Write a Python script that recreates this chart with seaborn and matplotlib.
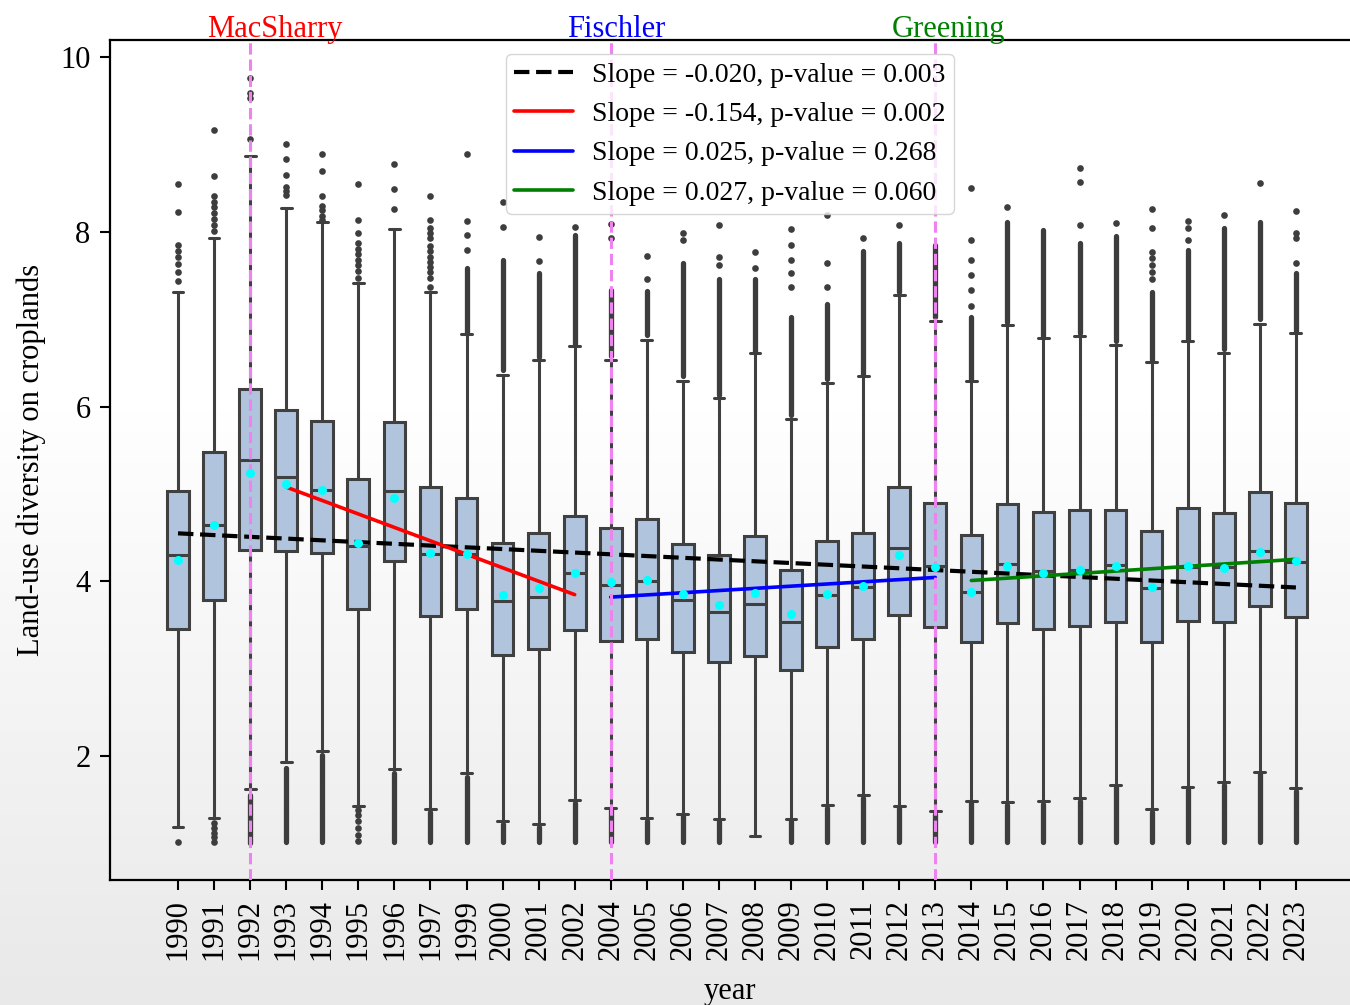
import numpy as np
import pandas as pd
import matplotlib
matplotlib.use("Agg")
import matplotlib.pyplot as plt
import seaborn as sns
from matplotlib.colors import LinearSegmentedColormap
from matplotlib import transforms

# ---- per-year box statistics -------------------------------------------
years = ["1990", "1991", "1992", "1993", "1994", "1995", "1996", "1997",
         "1999", "2000", "2001", "2002", "2004", "2005", "2006", "2007",
         "2008", "2009", "2010", "2011", "2012", "2013", "2014", "2015",
         "2016", "2017", "2018", "2019", "2020", "2021", "2022", "2023"]
whisker_low = [1.19, 1.29, 1.62, 1.93, 2.06, 1.43, 1.85, 1.39,
               1.80, 1.25, 1.22, 1.50, 1.41, 1.29, 1.34, 1.28,
               1.08, 1.28, 1.44, 1.55, 1.43, 1.37, 1.49, 1.47,
               1.48, 1.52, 1.67, 1.39, 1.65, 1.70, 1.82, 1.63]
q1 = [3.45, 3.79, 4.36, 4.35, 4.32, 3.68, 4.23, 3.60,
      3.68, 3.16, 3.22, 3.44, 3.32, 3.34, 3.19, 3.08,
      3.14, 2.99, 3.25, 3.34, 3.61, 3.48, 3.31, 3.52,
      3.46, 3.49, 3.54, 3.30, 3.55, 3.54, 3.72, 3.59]
median = [4.30, 4.65, 5.39, 5.20, 5.05, 4.41, 5.03, 4.31,
          4.31, 3.78, 3.82, 4.10, 3.96, 4.00, 3.79, 3.65,
          3.74, 3.54, 3.84, 3.93, 4.38, 4.18, 3.88, 4.20,
          4.12, 4.13, 4.19, 3.92, 4.16, 4.16, 4.35, 4.22]
q3 = [5.03, 5.48, 6.20, 5.96, 5.84, 5.17, 5.83, 5.08,
      4.95, 4.44, 4.55, 4.75, 4.61, 4.71, 4.43, 4.30,
      4.52, 4.13, 4.46, 4.55, 5.08, 4.90, 4.53, 4.89,
      4.80, 4.82, 4.82, 4.58, 4.84, 4.78, 5.02, 4.90]
whisker_high = [7.31, 7.93, 8.87, 8.28, 8.11, 7.42, 8.03, 7.31,
                6.83, 6.36, 6.53, 6.69, 6.53, 6.77, 6.30, 6.10,
                6.61, 5.86, 6.27, 6.35, 7.28, 6.98, 6.29, 6.94,
                6.79, 6.81, 6.71, 6.51, 6.75, 6.61, 6.95, 6.84]
mean = [4.25, 4.65, 5.24, 5.12, 5.05, 4.44, 4.96, 4.32,
        4.31, 3.84, 3.92, 4.10, 3.99, 4.02, 3.85, 3.73,
        3.87, 3.63, 3.85, 3.95, 4.30, 4.16, 3.88, 4.18,
        4.10, 4.13, 4.18, 3.94, 4.18, 4.15, 4.34, 4.23]

# ---- outliers: isolated points and tightly packed runs ------------------
outlier_points = [
    [8.55, 8.23, 7.85, 7.78, 7.71, 7.64, 7.54, 7.44, 1.01],
    [9.17, 8.64, 8.41, 8.35, 8.29, 8.22, 8.15, 8.08, 8.01, 1.23, 1.17, 1.12, 1.07, 1.02],
    [9.76, 9.59, 9.54, 9.07],
    [9.01, 8.84, 8.65, 8.52, 8.47, 8.42],
    [8.89, 8.70, 8.41, 8.30, 8.25, 8.19, 8.14],
    [8.55, 8.14, 7.99, 7.87, 7.81, 7.75, 7.68, 7.62, 7.55, 7.48, 1.38, 1.32, 1.25, 1.18, 1.10, 1.03],
    [8.78, 8.49, 8.26],
    [8.41, 8.14, 8.05, 7.99, 7.93, 7.84, 7.78, 7.72, 7.66, 7.60, 7.54, 7.47, 7.37],
    [8.89, 8.13, 7.97, 7.79],
    [8.34, 8.06],
    [7.94, 7.67],
    [8.06],
    [8.09, 7.93],
    [7.73, 7.46],
    [7.99, 7.91],
    [8.08, 7.71, 7.62],
    [7.77, 7.59],
    [8.03, 7.85, 7.68, 7.53, 7.37],
    [8.20, 7.65, 7.37],
    [7.93],
    [8.08],
    [],
    [8.50, 7.91, 7.68, 7.51, 7.34, 7.15],
    [8.29],
    [],
    [8.73, 8.57, 8.08],
    [8.10],
    [8.26, 8.05, 7.77, 7.70, 7.62, 7.54, 7.46],
    [8.13, 8.05, 7.91],
    [8.20],
    [8.56],
    [8.24, 7.99, 7.93, 7.65],
]
upper_runs = [None, None, None, None, None, None, None, None,
              (6.86, 7.59), (6.42, 7.68), (6.57, 7.53), (6.72, 7.97),
              (6.58, 7.34), (6.82, 7.33), (6.35, 7.65), (6.13, 7.46),
              (6.63, 7.46), (5.91, 7.03), (6.32, 7.18), (6.37, 7.78),
              (7.31, 7.87), (7.03, 7.85), (6.32, 7.03), (6.97, 8.11),
              (6.81, 8.02), (6.84, 7.87), (6.75, 7.96), (6.53, 7.31),
              (6.78, 7.80), (6.66, 8.05), (7.00, 8.11), (6.87, 7.53)]
lower_runs = [None, None, (1.00, 1.55), (1.01, 1.86), (1.01, 2.01), None, (1.01, 1.80), (1.01, 1.36),
              (1.01, 1.76), (1.01, 1.22), (1.01, 1.19), (1.01, 1.46),
              (1.01, 1.38), (1.01, 1.26), (1.01, 1.31), (1.01, 1.25),
              None, (1.01, 1.25), (1.01, 1.41), (1.01, 1.52),
              (1.01, 1.40), (1.01, 1.34), (1.01, 1.46), (1.01, 1.44),
              (1.01, 1.45), (1.01, 1.49), (1.01, 1.64), (1.01, 1.36),
              (1.01, 1.62), (1.01, 1.67), (1.01, 1.79), (1.01, 1.60)]

# ---- fitted trends ------------------------------------------------------
trend_labels = ["Slope = -0.020, p-value = 0.003",
                "Slope = -0.154, p-value = 0.002",
                "Slope = 0.025, p-value = 0.268",
                "Slope = 0.027, p-value = 0.060"]
trend_slopes = [-0.020, -0.154, 0.025, 0.027]
trend_start = ["1990", "1993", "2004", "2014"]
trend_end = ["2023", "2002", "2013", "2023"]
trend_start_value = [4.55, 5.08, 3.82, 4.01]
trend_colors = ["black", "red", "blue", "green"]
trend_styles = ["--", "-", "-", "-"]

# ---- CAP reforms --------------------------------------------------------
reform_names = ["MacSharry", "Fischler", "Greening"]
reform_years = ["1992", "2004", "2013"]
reform_colors = ["red", "blue", "green"]

# ------------------------------------------------------------------------
sns.set_theme(style="ticks")
plt.rcParams["font.family"] = ["Liberation Serif", "DejaVu Serif"]
plt.rcParams.update({"text.color": "black", "axes.labelcolor": "black",
                     "xtick.color": "black", "ytick.color": "black"})

fig = plt.figure(figsize=(13.5, 10.05), dpi=100)
fig.patch.set_facecolor("white")

# soft vertical shading behind the whole figure
bg = fig.add_axes([0, 0, 1, 1], zorder=-5)
shade = np.concatenate([np.zeros(40), np.linspace(0, 1, 60)])[:, None]
bg.imshow(shade, aspect="auto", extent=[0, 1, 0, 1],
          cmap=LinearSegmentedColormap.from_list("shade", ["#ffffff", "#e9e9e9"]),
          vmin=0, vmax=1)
bg.set_axis_off()

ax = fig.add_axes([110 / 1350, 125 / 1005, 1240 / 1350, 840 / 1005])
ax.set_facecolor("none")

# five-number summaries expanded into samples whose quartiles reproduce them
core = pd.DataFrame({
    "year": np.repeat(years, 7),
    "value": np.ravel([[lo, a, a, m, b, b, hi] for lo, a, m, b, hi in
                       zip(whisker_low, q1, median, q3, whisker_high)]),
})
sns.boxplot(data=core, x="year", y="value", order=years, color="#b0c4de",
            saturation=1, linecolor="#404040", linewidth=2.2, width=0.6,
            whis=(0, 100), showfliers=False, ax=ax, zorder=2)

pts = pd.DataFrame({
    "year": [y for y, vals in zip(years, outlier_points) for _ in vals],
    "value": [v for vals in outlier_points for v in vals],
})
sns.stripplot(data=pts, x="year", y="value", order=years, jitter=False,
              color="#3d3d3d", size=4.8, linewidth=0, ax=ax, zorder=3)

pos = {y: i for i, y in enumerate(years)}
for runs in (upper_runs, lower_runs):
    xs = [pos[y] for y, r in zip(years, runs) if r]
    lo = [r[0] for r in runs if r]
    hi = [r[1] for r in runs if r]
    lc = ax.vlines(xs, lo, hi, colors="#3d3d3d", linewidth=3.8, zorder=3)
    lc.set_capstyle("round")

# policy reform markers
for name, yr, col in zip(reform_names, reform_years, reform_colors):
    ax.axvline(pos[yr], color="violet", linestyle="--", linewidth=2.2, zorder=6)
    ax.text(pos[yr] - 1.2, 1.004, name, color=col, fontsize=22, ha="left",
            va="baseline", transform=transforms.blended_transform_factory(ax.transData, ax.transAxes))

# trend lines
for lab, s, y0, y1, v0, col, ls in zip(trend_labels, trend_slopes, trend_start, trend_end,
                                        trend_start_value, trend_colors, trend_styles):
    i0, i1 = pos[y0], pos[y1]
    ax.plot([i0, i1], [v0, v0 + s * (i1 - i0)], color=col, linestyle=ls,
            linewidth=3 if ls == "--" else 2.6, label=lab, zorder=5)

means = pd.DataFrame({"year": years, "value": mean})
sns.stripplot(data=means, x="year", y="value", order=years, jitter=False,
              color="cyan", size=6.5, linewidth=0, ax=ax, zorder=7)

ax.set_xlim(-1.886, 32.5)
ax.set_ylim(0.58, 10.2)
ax.set_yticks([2, 4, 6, 8, 10])
ax.set_xticks(range(len(years)))
ax.set_xticklabels(years, rotation=90)
ax.tick_params(axis="both", direction="out", length=7, width=1.5, labelsize=22,
               pad=7, colors="black")
for side in ("left", "bottom", "top"):
    ax.spines[side].set_visible(True)
    ax.spines[side].set_linewidth(1.6)
    ax.spines[side].set_color("black")
ax.spines["right"].set_visible(False)

ax.set_xlabel("year", fontsize=22, labelpad=12)
ax.set_ylabel("Land-use diversity on croplands", fontsize=22, labelpad=10)

leg = ax.legend(loc="upper center", fontsize=20, frameon=True, fancybox=True,
                framealpha=0.8, edgecolor="#cccccc", handlelength=2.1,
                borderpad=0.3, labelspacing=0.5, handletextpad=0.7)
for t in leg.get_texts():
    t.set_color("black")
leg.set_zorder(10)

fig.savefig("out.png", dpi=100)
